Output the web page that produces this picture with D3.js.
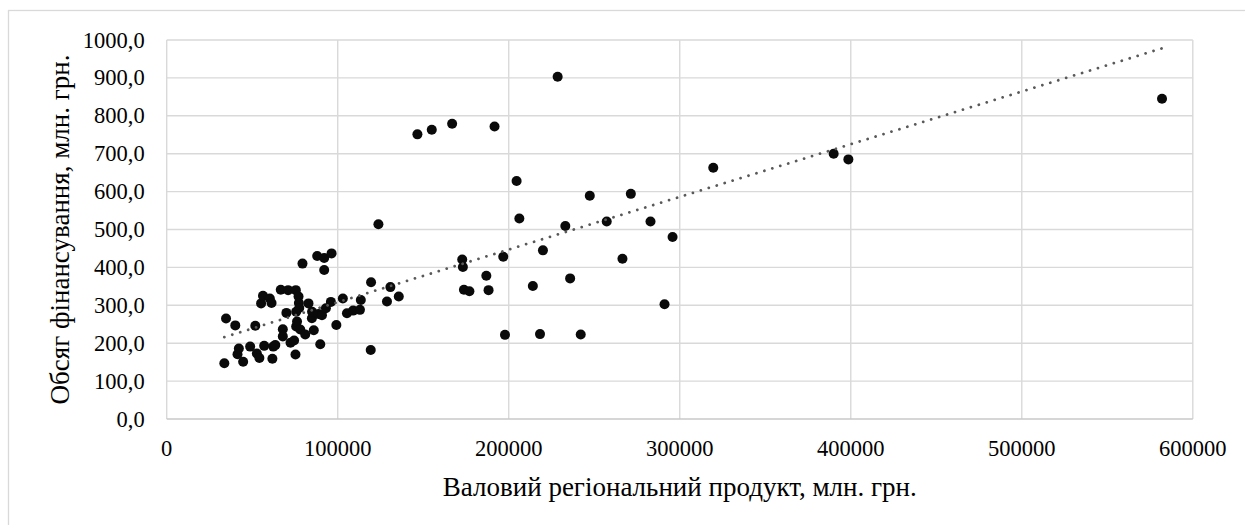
<!DOCTYPE html>
<html>
<head>
<meta charset="utf-8">
<script src="https://cdn.jsdelivr.net/npm/d3@7"></script>
<style>
  html, body { margin: 0; padding: 0; background: #fff; }
  svg { display: block; }
</style>
</head>
<body>
<svg id="chart" width="1245" height="525"></svg>
<script>
// ---- data ----
const grpValues = [
  33700, 34700, 40100, 41400, 42200, 44700, 48800, 51800, 52700, 54200,
  55200, 56300, 57000, 60300, 61300, 61800, 62300, 63500, 66700, 67900,
  67900, 70000, 71000, 72400, 74500, 75300, 75500, 75700, 75700, 76200,
  77100, 77300, 77500, 78100, 79400, 81000, 82900, 84900, 85000, 86000,
  88000, 88800, 89800, 90800, 92100, 92100, 93100, 96000, 96400, 99200,
  103000, 105400, 109000, 113000, 113500, 119500, 119300, 123800, 128800, 130800,
  135700, 146600, 155000, 166900, 172800, 173200, 173800, 177000, 186900, 188200,
  191700, 196800, 197800, 204600, 206200, 214100, 218300, 220000, 228600, 233100,
  235900, 242100, 247400, 257300, 266500, 271400, 282900, 291100, 295800, 319600,
  390000, 398600, 582000
];
const fundingValues = [
  147, 265, 247, 171, 186, 151, 191, 246, 173, 161,
  305, 325, 193, 318, 306, 159, 191, 195, 341, 237,
  218, 280, 340, 201, 207, 170, 340, 283, 244, 257,
  323, 306, 293, 236, 410, 223, 305, 266, 283, 234,
  430, 277, 197, 274, 425, 393, 292, 309, 437, 248,
  318, 279, 286, 288, 314, 361, 182, 514, 310, 348,
  323, 751, 763, 779, 421, 401, 341, 337, 378, 340,
  772, 428, 222, 628, 529, 351, 224, 445, 903, 509,
  371, 223, 589, 521, 423, 594, 521, 303, 480, 663,
  700, 685, 845
];
// linear trend line as drawn in the reference (start / end points)
const trendX = [33700, 582000];
const trendY = [216, 978];
const xTicks = [0, 100000, 200000, 300000, 400000, 500000, 600000];
const yTicks = [0, 100, 200, 300, 400, 500, 600, 700, 800, 900, 1000];
const xTitle = "Валовий регіональний продукт, млн. грн.";
const yTitle = "Обсяг фінансування, млн. грн.";

// ---- layout ----
const svg = d3.select("#chart");
const plot = { left: 166.7, right: 1192.8, top: 40, bottom: 419 };
const FONT = "Liberation Serif";

const x = d3.scaleLinear().domain([0, 600000]).range([plot.left, plot.right]);
const y = d3.scaleLinear().domain([0, 1000]).range([plot.bottom, plot.top]);

// outer chart frame (extends beyond view on right/bottom)
svg.append("rect")
  .attr("x", 8.5).attr("y", 10.5)
  .attr("width", 1300).attr("height", 600)
  .attr("fill", "#fff").attr("stroke", "#d9d9d9").attr("stroke-width", 1.3);

// gridlines
const grid = svg.append("g");
grid.selectAll("line.h").data(yTicks.filter(d => d > 0)).join("line")
  .attr("x1", plot.left).attr("x2", plot.right)
  .attr("y1", d => y(d)).attr("y2", d => y(d))
  .attr("stroke", "#d9d9d9").attr("stroke-width", 1.4);
grid.selectAll("line.v").data(xTicks).join("line")
  .attr("y1", plot.top).attr("y2", plot.bottom)
  .attr("x1", d => x(d)).attr("x2", d => x(d))
  .attr("stroke", "#d9d9d9").attr("stroke-width", 1.4);
svg.append("line")
  .attr("x1", plot.left).attr("x2", plot.right)
  .attr("y1", y(0)).attr("y2", y(0))
  .attr("stroke", "#c8c8c8").attr("stroke-width", 1.6);

// tick labels
const fmtY = d => d3.format(".1f")(d).replace(".", ",");
svg.append("g").selectAll("text").data(yTicks).join("text")
  .attr("x", plot.left - 22).attr("y", d => y(d))
  .attr("text-anchor", "end").attr("dominant-baseline", "central")
  .attr("font-family", FONT).attr("font-size", 22.5).attr("fill", "#000")
  .text(fmtY);
svg.append("g").selectAll("text").data(xTicks).join("text")
  .attr("x", d => x(d)).attr("y", plot.bottom + 29)
  .attr("text-anchor", "middle").attr("dominant-baseline", "central")
  .attr("font-family", FONT).attr("font-size", 22.5).attr("fill", "#000")
  .text(d3.format("d"));

// axis titles
svg.append("text")
  .attr("x", (plot.left + plot.right) / 2).attr("y", 487)
  .attr("text-anchor", "middle").attr("dominant-baseline", "central")
  .attr("font-family", FONT).attr("font-size", 27).attr("fill", "#000").text(xTitle);
svg.append("text")
  .attr("transform", `translate(60,${(plot.top + plot.bottom) / 2}) rotate(-90)`)
  .attr("text-anchor", "middle").attr("dominant-baseline", "central")
  .attr("font-family", FONT).attr("font-size", 27).attr("fill", "#000").text(yTitle);

// points
const pts = grpValues.map((v, i) => ({ gx: v, fy: fundingValues[i] }));
svg.append("g").selectAll("circle").data(pts).join("circle")
  .attr("cx", d => x(d.gx)).attr("cy", d => y(d.fy))
  .attr("r", 5).attr("fill", "#0a0a0a");

// trend line
svg.append("line")
  .attr("x1", x(trendX[0])).attr("y1", y(trendY[0]))
  .attr("x2", x(trendX[1])).attr("y2", y(trendY[1]))
  .attr("stroke", "#595959").attr("stroke-width", 2.8)
  .attr("stroke-linecap", "round").attr("stroke-dasharray", "0.01,8.3");
</script>
</body>
</html>
